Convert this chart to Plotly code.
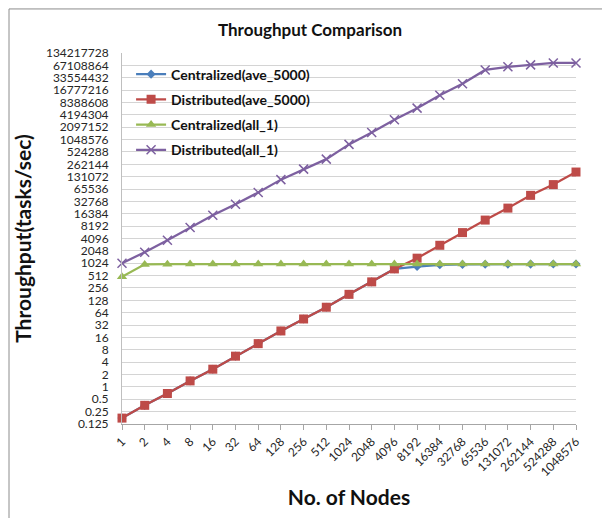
import math
import plotly.graph_objects as go

# Number of nodes (x categories)
nodes = ["1", "2", "4", "8", "16", "32", "64", "128", "256", "512", "1024",
         "2048", "4096", "8192", "16384", "32768", "65536", "131072",
         "262144", "524288", "1048576"]

# Throughput (tasks/sec) per series
centralized_ave = [0.174, 0.356, 0.69, 1.4, 2.7, 5.6, 11.3, 23, 45, 87, 179,
                   360, 745, 850, 940, 960, 970, 975, 975, 980, 980]
distributed_ave = [0.174, 0.356, 0.69, 1.4, 2.7, 5.6, 11.3, 23, 45, 87, 179,
                   360, 745, 1360, 2800, 5700, 11500, 22500, 46000, 84000, 170000]
centralized_all = [478, 960, 970, 975, 975, 980, 980, 980, 980, 980, 980,
                   980, 980, 980, 980, 980, 980, 980, 980, 980, 980]
distributed_all = [1024, 1900, 3700, 7600, 15000, 28000, 54000, 111000, 200000,
                   350000, 800000, 1560000, 3200000, 6100000, 12600000,
                   24000000, 52000000, 62000000, 69000000, 77000000, 77000000]

# Y tick labels: powers of two from 2^-3 to 2^27
y_ticks = [0.125, 0.25, 0.5, 1, 2, 4, 8, 16, 32, 64, 128, 256, 512, 1024,
           2048, 4096, 8192, 16384, 32768, 65536, 131072, 262144, 524288,
           1048576, 2097152, 4194304, 8388608, 16777216, 33554432, 67108864,
           134217728]
y_labels = ["0.125", "0.25", "0.5"] + [str(int(v)) for v in y_ticks[3:]]

FONT = "Lato"

series = [
    ("Centralized(ave_5000)", centralized_ave, "#4a7ebb",
     dict(symbol="diamond", size=7)),
    ("Distributed(ave_5000)", distributed_ave, "#be4b48",
     dict(symbol="square", size=9)),
    ("Centralized(all_1)", centralized_all, "#98b954",
     dict(symbol="triangle-up", size=9)),
    ("Distributed(all_1)", distributed_all, "#7d60a0",
     dict(symbol="x-thin", size=9, line=dict(width=1.5, color="#7d60a0"))),
]

fig = go.Figure()
for name, vals, color, marker in series:
    fig.add_trace(go.Scatter(
        x=nodes, y=vals, name=name, mode="lines+markers",
        line=dict(color=color, width=2.25),
        marker=dict(color=color, **marker),
        cliponaxis=False, legendgroup=name,
    ))

fig.update_layout(
    width=602, height=518,
    margin=dict(l=122, r=26, t=53, b=86),
    paper_bgcolor="white", plot_bgcolor="white",
    font=dict(family=FONT, color="#222222"),
    title=dict(text="Throughput Comparison", x=0.515, xanchor="center",
               y=1 - 30 / 518, yanchor="middle",
               font=dict(size=17, color="#111111", weight="bold")),
    showlegend=True,
    legend=dict(x=0.02, y=0.985, xanchor="left", yanchor="top",
                bgcolor="rgba(0,0,0,0)", tracegroupgap=4,
                font=dict(size=14, color="#111111", weight="bold"),
                itemwidth=30),
    xaxis=dict(
        type="category", range=[0, len(nodes) - 1],
        tickangle=-45, tickfont=dict(size=12, color="#262626"),
        showgrid=False, showline=True, linecolor="#a6a6a6", linewidth=1,
        ticks="outside", ticklen=5, tickcolor="#a6a6a6",
        title=dict(text="No. of Nodes",
                   font=dict(size=21, color="#111111", weight="bold"),
                   standoff=12),
    ),
    yaxis=dict(
        type="log",
        range=[math.log10(y_ticks[0]), math.log10(y_ticks[-1])],
        tickvals=y_ticks, ticktext=y_labels,
        tickfont=dict(size=12, color="#262626"),
        showgrid=True, gridcolor="#d4d4d4", gridwidth=1,
        showline=True, linecolor="#bfbfbf", linewidth=1,
        ticks="outside", ticklen=10, tickcolor="rgba(0,0,0,0)",
        zeroline=False,
        title=dict(text="Throughput(tasks/sec)",
                   font=dict(size=21, color="#111111", weight="bold"),
                   standoff=8),
    ),
)

# Outer chart frame (left and top edges)
pw, ph = 602 - 122 - 26, 518 - 53 - 86
fx0 = (9 - 122) / pw
fy1 = (432 - 8) / ph
fig.add_shape(type="rect", xref="paper", yref="paper",
              x0=fx0, x1=(610 - 122) / pw, y0=(432 - 530) / ph, y1=fy1,
              line=dict(color="#8c8c8c", width=1), layer="below")

fig.write_html("out.html")
